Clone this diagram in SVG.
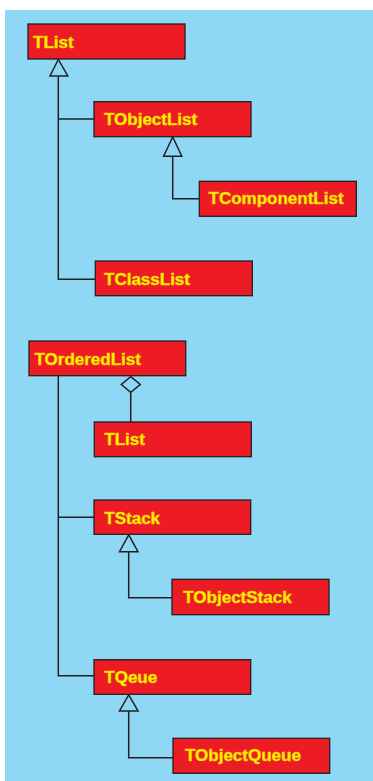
<svg xmlns="http://www.w3.org/2000/svg" width="373" height="781" viewBox="0 0 373 781">
<style>
.box{fill:#ED1C24;stroke:#231F20;stroke-width:1.3}
.lbl{font-family:"Liberation Sans",Arial,sans-serif;font-weight:bold;font-size:17px;fill:#FFF200;stroke:#F0D000;stroke-width:0.5}
.ln{fill:none;stroke:#231F20;stroke-width:1.5}
.tri{fill:#8FD8F5;stroke:#231F20;stroke-width:1.5}
</style>
<rect x="5" y="10" width="368" height="771" fill="#8FD8F5"/>
<g id="connectors">
<path class="ln" d="M58.3,76 V279.3 H95.3 M58.3,119 H94"/>
<polygon class="tri" points="58.3,59.5 50,76 67.8,76"/>
<path class="ln" d="M172.7,156.3 V198.7 H199.3"/>
<polygon class="tri" points="172.7,137 163.6,156.3 181.8,156.3"/>
<path class="ln" d="M58.3,375.7 V675.7 H94 M58.3,517.3 H94"/>
<polygon class="tri" points="130.7,376.7 140.3,384.5 130.7,392.3 121.3,384.5"/>
<path class="ln" d="M130.7,392.3 V422"/>
<path class="ln" d="M128.7,551.7 V597.7 H172"/>
<polygon class="tri" points="128.7,534.8 119.5,551.7 138,551.7"/>
<path class="ln" d="M128.7,711 V757.7 H173"/>
<polygon class="tri" points="128.7,694.8 119.5,711 138,711"/>
</g>
<g id="TList"><rect class="box" x="28" y="24" width="157" height="35"/><text class="lbl" x="33" y="48">TList</text></g>
<g id="TObjectList"><rect class="box" x="94" y="101.7" width="157" height="35"/><text class="lbl" x="104" y="125">TObjectList</text></g>
<g id="TComponentList"><rect class="box" x="199.3" y="181.3" width="157" height="35"/><text class="lbl" x="208.5" y="204">TComponentList</text></g>
<g id="TClassList"><rect class="box" x="95.3" y="261" width="157" height="34.7"/><text class="lbl" x="104" y="285">TClassList</text></g>
<g id="TOrderedList"><rect class="box" x="29" y="341" width="156.7" height="34.7"/><text class="lbl" x="34.5" y="365">TOrderedList</text></g>
<g id="TList2"><rect class="box" x="94.3" y="422" width="157" height="34.7"/><text class="lbl" x="104.3" y="445">TList</text></g>
<g id="TStack"><rect class="box" x="94" y="500" width="156.7" height="34.3"/><text class="lbl" x="104.3" y="523.7">TStack</text></g>
<g id="TObjectStack"><rect class="box" x="172" y="579.3" width="157" height="35.4"/><text class="lbl" x="183.3" y="603.3">TObjectStack</text></g>
<g id="TQeue"><rect class="box" x="94" y="659.7" width="156.7" height="34.6"/><text class="lbl" x="104.3" y="683.3">TQeue</text></g>
<g id="TObjectQueue"><rect class="box" x="173" y="738.3" width="156.7" height="35"/><text class="lbl" x="185" y="761">TObjectQueue</text></g>
</svg>
